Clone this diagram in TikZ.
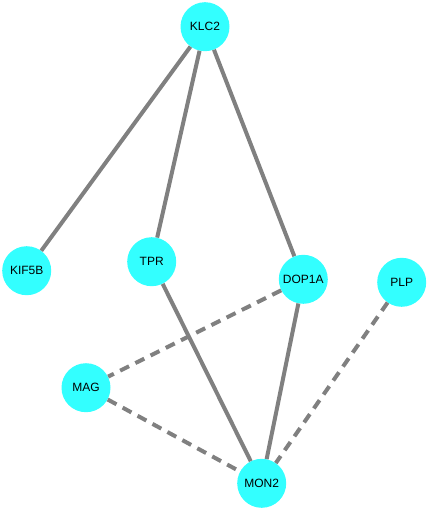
\documentclass[tikz,border=0pt]{standalone}
\usepackage{fontspec}
\setmainfont{Liberation Sans}
\usepackage{xcolor}
\usetikzlibrary{positioning}
\definecolor{nodecyan}{RGB}{51,255,255}
\definecolor{edgegray}{RGB}{128,128,128}

\begin{document}
\begin{tikzpicture}[
  x=1pt, y=-1pt,
  gene/.style={circle,fill=nodecyan,minimum size=49pt,inner sep=0pt,font=\fontsize{12}{14}\selectfont},
  link/.style={draw=edgegray,line width=4pt},
  weaklink/.style={draw=edgegray,line width=4pt,dash pattern=on 10pt off 7pt}
]
\useasboundingbox (0,0) rectangle (429,511);

\node[gene] (klc2) at (205,26.7) {KLC2};
\node[gene] (kif5b) at (26.7,270.7) {KIF5B};
\node[gene] (tpr) at (151.7,261.7) {TPR};
\node[gene] (dop1a) at (303.3,279.3) {DOP1A};
\node[gene] (plp) at (401.7,282.3) {PLP};
\node[gene] (mag) at (86,387.7) {MAG};
\node[gene] (mon2) at (261.7,483.3) {MON2};

\draw[link] (klc2) -- (kif5b);
\draw[link] (klc2) -- (tpr);
\draw[link] (klc2) -- (dop1a);
\draw[link] (tpr) -- (mon2);
\draw[link] (dop1a) -- (mon2);
\draw[weaklink] (dop1a) -- (mag);
\draw[weaklink] (mag) -- (mon2);
\draw[weaklink] (plp) -- (mon2);
\end{tikzpicture}
\end{document}
